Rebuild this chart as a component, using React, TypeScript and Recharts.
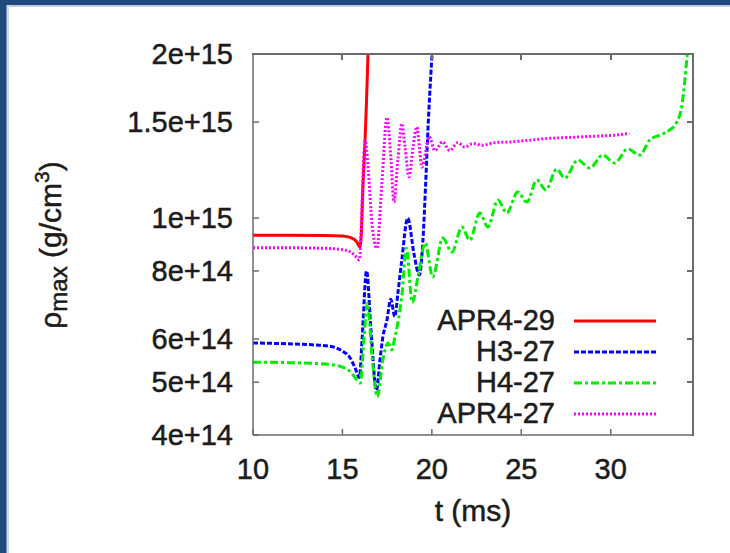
import { LineChart, Line, XAxis, YAxis, Legend } from 'recharts';

// t (ms) vs rho_max (g/cm^3)
const apr429: [number, number][] = [
  [10, 9.3e14], [12, 9.3e14], [14, 9.29e14], [15, 9.27e14], [15.5, 9.2e14], [15.8, 9.05e14],
  [15.98, 8.85e14], [16.05, 9.3e14], [16.15, 1.15e15], [16.25, 1.35e15], [16.35, 1.65e15], [16.45, 2.1e15],
];

const h327: [number, number][] = [
  [10, 5.9e14], [12, 5.88e14], [13.5, 5.85e14], [14.3, 5.82e14], [15.0, 5.7e14], [15.4, 5.56e14],
  [15.7, 5.32e14], [15.95, 5.1e14], [16.1, 6.0e14], [16.35, 8.0e14], [16.6, 6.2e14], [16.9, 4.83e14],
  [17.1, 5.5e14], [17.26, 6.05e14], [17.49, 6.5e14], [17.7, 7.1e14], [17.93, 6.6e14], [18.1, 7.28e14],
  [18.32, 8.38e14], [18.65, 1.0e15], [19.0, 8.6e14], [19.3, 7.86e14], [19.5, 9.1e14], [19.65, 1.15e15],
  [19.8, 1.5e15], [19.95, 1.85e15], [20.05, 2.1e15],
];

const h427: [number, number][] = [
  [10, 5.44e14], [12, 5.43e14], [14, 5.4e14], [15, 5.33e14], [15.5, 5.2e14], [15.8, 5.05e14],
  [16.0, 4.98e14], [16.2, 6.0e14], [16.4, 6.98e14], [16.65, 5.6e14], [16.95, 4.7e14], [17.26, 5.49e14],
  [17.55, 5.9e14], [17.77, 5.73e14], [17.93, 6.05e14], [18.1, 6.42e14], [18.32, 7.2e14], [18.58, 8.8e14],
  [18.9, 7.0e14], [19.25, 7.9e14], [19.62, 9.0e14], [20.05, 7.8e14], [20.61, 9.19e14], [21.12, 8.66e14],
  [21.68, 9.63e14], [22.12, 9.11e14], [22.68, 1.022e15], [23.13, 9.63e14], [23.69, 1.079e15],
  [24.19, 1.022e15], [24.8, 1.116e15], [25.31, 1.07e15], [25.87, 1.174e15], [26.37, 1.126e15],
  [26.98, 1.23e15], [27.43, 1.184e15], [28.16, 1.278e15], [28.83, 1.235e15], [29.55, 1.305e15],
  [30.22, 1.262e15], [30.95, 1.339e15], [31.62, 1.305e15], [32.18, 1.391e15], [32.74, 1.42e15],
  [33.3, 1.451e15], [33.69, 1.5e15], [33.97, 1.6e15], [34.13, 1.77e15], [34.25, 1.95e15], [34.32, 2.05e15],
];

const apr427: [number, number][] = [
  [10, 8.82e14], [12, 8.82e14], [14, 8.8e14], [15, 8.75e14], [15.5, 8.65e14], [15.75, 8.5e14],
  [15.95, 8.38e14], [16.05, 9.5e14], [16.15, 1.2e15], [16.27, 1.39e15], [16.45, 1.22e15], [16.65, 9.8e14],
  [16.93, 8.8e14], [17.2, 1.15e15], [17.49, 1.53e15], [17.7, 1.3e15], [17.88, 1.07e15], [18.1, 1.28e15],
  [18.32, 1.49e15], [18.5, 1.35e15], [18.72, 1.19e15], [18.95, 1.35e15], [19.16, 1.47e15], [19.3, 1.35e15],
  [19.44, 1.24e15], [19.65, 1.32e15], [19.85, 1.41e15], [20.17, 1.33e15], [20.6, 1.38e15], [21.0, 1.33e15],
  [21.45, 1.375e15], [21.84, 1.35e15], [22.3, 1.37e15], [22.8, 1.36e15], [23.5, 1.375e15], [24.5, 1.38e15],
  [25.5, 1.39e15], [26.5, 1.4e15], [27.5, 1.405e15], [28.5, 1.41e15], [29.5, 1.415e15], [30.3, 1.42e15],
  [31.05, 1.43e15],
];

const seriesNames = ['APR4-29', 'H3-27', 'H4-27', 'APR4-27'];
const seriesData = [apr429, h327, h427, apr427];

const xDomain: [number, number] = [10, 34.6];
const yDomain: [number, number] = [4e14, 2e15];
const xTicks = [10, 15, 20, 25, 30];
const yTicks = [4e14, 5e14, 6e14, 8e14, 1e15, 1.5e15, 2e15];
const yTickLabels = ['4e+14', '5e+14', '6e+14', '8e+14', '1e+15', '1.5e+15', '2e+15'];

const colors = ['#ff0000', '#0000ff', '#00ee00', '#ff00ff'];
const dashes = [undefined, '5 2', '8 3 3 3', '2 2'];

const axisColor = '#6b6b6b';
const textColor = '#1c1c1c';
const font = '"Liberation Sans", Arial, Helvetica, sans-serif';

// plot box (matches margin + axis sizes below)
const plot = { left: 253, top: 54, width: 440, height: 381 };

const yFmt = (v: number) => {
  const i = yTicks.findIndex((t) => Math.abs(t - v) / t < 1e-6);
  return i >= 0 ? yTickLabels[i] : '';
};

const tickText = { fill: textColor, fontSize: 29, stroke: textColor, strokeWidth: 0.5 };

// top/right border with inward ticks (gnuplot mirrors them), as plain boxes
function MirrorFrame() {
  const px = (t: number) => plot.left + ((t - xDomain[0]) / (xDomain[1] - xDomain[0])) * plot.width;
  const py = (v: number) =>
    plot.top + (Math.log(yDomain[1] / v) / Math.log(yDomain[1] / yDomain[0])) * plot.height;
  const right = plot.left + plot.width;
  const box = (l: number, t: number, w: number, h: number, key: string) => (
    <div key={key} style={{ position: 'absolute', left: l, top: t, width: w, height: h, background: axisColor }} />
  );
  return (
    <>
      {box(plot.left - 1, plot.top - 1, plot.width + 2, 2, 'top')}
      {box(right - 1, plot.top - 1, 2, plot.height + 2, 'right')}
      {xTicks.slice(1).map((t) => box(px(t) - 1, plot.top, 2, 6, `x${t}`))}
      {yTicks.slice(1, -1).map((v) => box(right - 6, py(v) - 1, 6, 2, `y${v}`))}
    </>
  );
}

function LegendBox() {
  return (
    <div style={{ fontFamily: font }}>
      {seriesNames.map((name, i) => (
        <div key={name} style={{ display: 'flex', alignItems: 'center', height: 31 }}>
          <div
            style={{
              width: 175,
              textAlign: 'right',
              fontSize: 29,
              color: textColor,
              lineHeight: '31px',
              WebkitTextStroke: `0.5px ${textColor}`,
            }}
          >
            {name}
          </div>
          <svg width={101} height={31} style={{ display: 'block' }}>
            <line x1={19} x2={101} y1={16} y2={16} stroke={colors[i]} strokeWidth={3} strokeDasharray={dashes[i]} />
          </svg>
        </div>
      ))}
    </div>
  );
}

function YLabel() {
  return (
    <text
      x={61}
      y={245}
      transform="rotate(-90, 61, 245)"
      textAnchor="middle"
      fill={textColor}
      stroke={textColor}
      strokeWidth={0.5}
      fontSize={30}
      fontFamily={font}
    >
      ρ<tspan fontSize={24} dy={6}>max</tspan>
      <tspan dy={-6}> (g/cm</tspan>
      <tspan fontSize={21} dy={-12}>3</tspan>
      <tspan dy={12}>)</tspan>
    </text>
  );
}

function XLabel(props: any) {
  const vb = props.viewBox || { x: 253, width: 440 };
  return (
    <text
      x={vb.x + vb.width / 2}
      y={521}
      textAnchor="middle"
      fill={textColor}
      stroke={textColor}
      strokeWidth={0.5}
      fontSize={30}
      fontFamily={font}
    >
      t (ms)
    </text>
  );
}

export default function App() {
  return (
    <div style={{ position: 'absolute', left: 0, top: 0, width: 730, height: 553, background: '#fff', fontFamily: font }}>
      <LineChart width={730} height={553} margin={{ top: 54, right: 37, left: 0, bottom: 0 }}>
        <XAxis
          type="number"
          dataKey="t"
          domain={xDomain}
          ticks={xTicks}
          allowDataOverflow
          interval={0}
          height={118}
          tickSize={-6}
          tickMargin={29}
          axisLine={{ stroke: axisColor, strokeWidth: 1.5 }}
          tickLine={{ stroke: axisColor, strokeWidth: 1.5 }}
          tick={tickText}
          label={<XLabel />}
        />
        <YAxis
          scale="log"
          domain={yDomain}
          ticks={yTicks}
          allowDataOverflow
          interval={0}
          width={253}
          tickSize={-6}
          tickMargin={26}
          tickFormatter={yFmt}
          axisLine={{ stroke: axisColor, strokeWidth: 1.5 }}
          tickLine={{ stroke: axisColor, strokeWidth: 1.5 }}
          tick={tickText}
          label={<YLabel />}
        />
        {seriesData.map((d, i) => (
          <Line
            key={seriesNames[i]}
            name={seriesNames[i]}
            data={d.map(([t, rho]) => ({ t, rho }))}
            dataKey="rho"
            type="monotone"
            stroke={colors[i]}
            strokeWidth={3}
            strokeDasharray={dashes[i]}
            dot={false}
            activeDot={false}
            isAnimationActive={false}
          />
        ))}
        <Legend
          layout="vertical"
          align="center"
          verticalAlign="middle"
          content={() => <LegendBox />}
          wrapperStyle={{ left: 380, top: 305, width: 276, height: 124 }}
        />
      </LineChart>
      <div style={{ position: 'absolute', left: 0, top: 0, width: 730, height: 5, background: '#1f4a7d' }} />
      <div style={{ position: 'absolute', left: 0, top: 5, width: 730, height: 2, background: '#c3cddb' }} />
      <div style={{ position: 'absolute', left: 0, top: 0, width: 6, height: 553, background: '#1f4a7d' }} />
      <div style={{ position: 'absolute', left: 6, top: 5, width: 1, height: 548, background: '#7d91ae' }} />
      <div style={{ position: 'absolute', left: 7, top: 5, width: 2, height: 548, background: '#d3dbe6' }} />
      <MirrorFrame />
    </div>
  );
}
